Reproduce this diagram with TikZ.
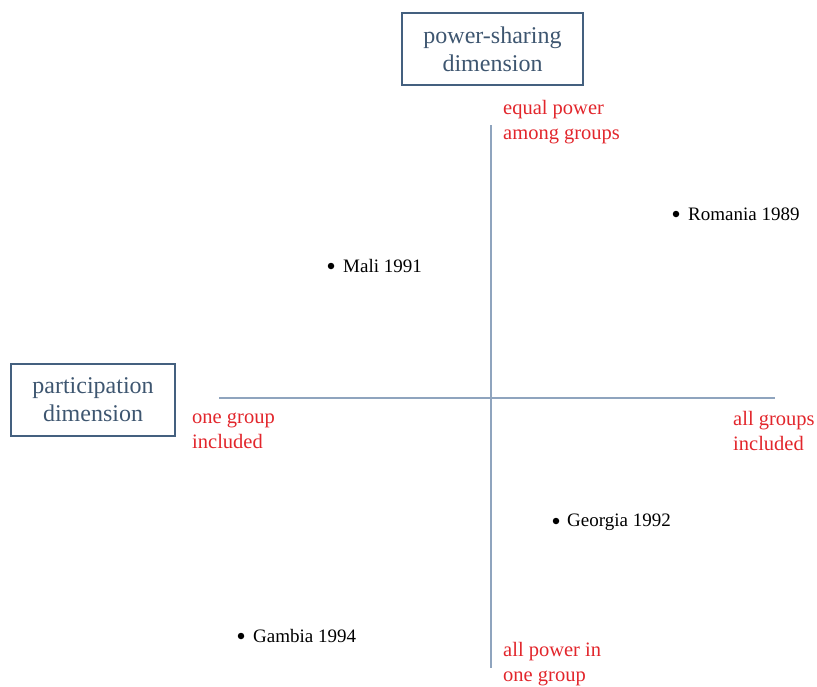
\documentclass[tikz,border=0pt]{standalone}
\usepackage{fontspec}
\setmainfont{Liberation Serif}
\definecolor{boxblue}{HTML}{44607F}
\definecolor{boxtext}{HTML}{3E5670}
\definecolor{axisblue}{HTML}{8FA4BE}
\definecolor{lblred}{HTML}{E2262C}
\tikzset{
  dimbox/.style={draw=boxblue, line width=1.8pt, text=boxtext, align=center,
    font=\fontsize{24}{28}\selectfont, inner sep=0pt},
  axisline/.style={draw=axisblue, line width=1.3pt},
  endlabel/.style={text=lblred, align=left, anchor=west, inner sep=0pt,
    font=\fontsize{20.5}{25}\selectfont},
  caselabel/.style={anchor=west, inner sep=0pt, font=\fontsize{19}{22}\selectfont},
  casedot/.style={circle, fill=black, inner sep=0pt, minimum size=6.5pt}
}
\begin{document}
\begin{tikzpicture}[x=1pt,y=-1pt]
\useasboundingbox (0,0) rectangle (817,686);
% dimension boxes
\node[dimbox, minimum width=181pt, minimum height=72pt] (psbox) at (492.5,49) {power-sharing\\dimension};
\node[dimbox, minimum width=164pt, minimum height=72pt] (partbox) at (93,400) {participation\\dimension};
% axes
\coordinate (vtop) at (491,125);
\coordinate (vbot) at (491,668);
\coordinate (hleft) at (219,398);
\coordinate (hright) at (775,398);
\draw[axisline] (vtop) -- (vbot);
\draw[axisline] (hleft) -- (hright);
% axis end labels
\node[endlabel] (eqpow) at (503,122) {equal power\\among groups};
\node[endlabel] (onegrp) at (192,431) {one group\\included};
\node[endlabel] (allgrp) at (733,431) {all groups\\included};
\node[endlabel] (allpow) at (503,664) {all power in\\one group};
% cases
\node[casedot] (romdot) at (676,214) {};
\node[caselabel] (rom) at (688,214) {Romania 1989};
\node[casedot] (malidot) at (331,266) {};
\node[caselabel] (mali) at (343,266) {Mali 1991};
\node[casedot] (geodot) at (556,521) {};
\node[caselabel] (geo) at (567,522) {Georgia 1992};
\node[casedot] (gamdot) at (241,636) {};
\node[caselabel] (gam) at (253,636) {Gambia 1994};
\end{tikzpicture}
\end{document}
